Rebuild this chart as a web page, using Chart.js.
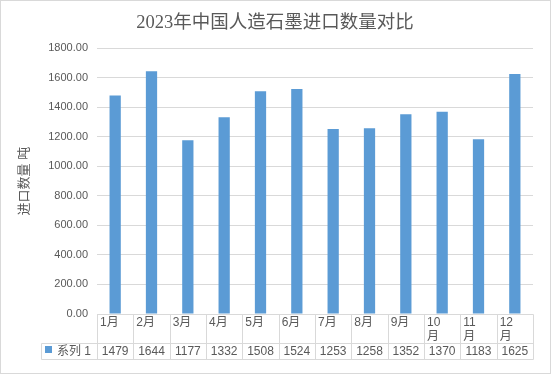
<!DOCTYPE html>
<html>
<head>
<meta charset="utf-8">
<script src="https://cdn.jsdelivr.net/npm/chart.js@4/dist/chart.umd.min.js"></script>
<style>
  html, body { margin: 0; padding: 0; background: #fff; }
  #wrap { width: 554px; height: 377px; }
</style>
</head>
<body>
<div id="wrap"><canvas id="graph"></canvas></div>
<script>
const months = ['1月', '2月', '3月', '4月', '5月', '6月', '7月', '8月', '9月', '10月', '11月', '12月'];
const seriesName = '系列 1';
const imports = [1479, 1644, 1177, 1332, 1508, 1524, 1253, 1258, 1352, 1370, 1183, 1625];
const yTickValues = [0, 200, 400, 600, 800, 1000, 1200, 1400, 1600, 1800];

const barColor = '#5B9BD5';
const lineColor = '#D9D9D9';
const textColor = '#595959';
const fontFamily = "'Liberation Sans', 'Noto Sans CJK SC', sans-serif";

// excel style data table under the plot + outer border
const dataTable = {
    id: 'dataTable',
    afterDraw(chart) {
        const ctx = chart.ctx;
        const area = chart.chartArea;
        const x = chart.scales.x;
        const top = Math.round(area.bottom) + 0.5;
        const row1 = top + 29;
        const row2 = row1 + 16;
        const left = Math.round(area.left) + 0.5;
        const right = Math.round(area.right) + 0.5;
        const legendLeft = 41.5;
        const step = (area.right - area.left) / months.length;

        ctx.save();
        ctx.strokeStyle = lineColor;
        ctx.lineWidth = 1;
        ctx.beginPath();
        ctx.moveTo(left, top); ctx.lineTo(right, top);
        ctx.moveTo(legendLeft, row1); ctx.lineTo(right, row1);
        ctx.moveTo(legendLeft, row2); ctx.lineTo(right, row2);
        ctx.moveTo(legendLeft, row1); ctx.lineTo(legendLeft, row2);
        for (let i = 0; i <= months.length; i++) {
            const bx = Math.round(x.getPixelForValue(0) - step / 2 + i * step) + 0.5;
            ctx.moveTo(bx, top); ctx.lineTo(bx, row2);
        }
        ctx.stroke();

        ctx.fillStyle = textColor;
        ctx.font = '12px ' + fontFamily;
        ctx.textBaseline = 'top';
        ctx.textAlign = 'left';
        months.forEach((m, i) => {
            const cx = x.getPixelForValue(i);
            const cl = cx - step / 2 + 3;
            let lines = [m];
            if (ctx.measureText(m).width > step - 14) lines = [m.slice(0, -1), m.slice(-1)];
            lines.forEach((ln, j) => ctx.fillText(ln, cl, top + 2 + j * 14));
        });

        ctx.textAlign = 'center';
        ctx.textBaseline = 'middle';
        imports.forEach((v, i) => {
            ctx.fillText(String(v), x.getPixelForValue(i), (row1 + row2) / 2);
        });

        // legend key
        ctx.fillStyle = barColor;
        ctx.fillRect(45, row1 + 2.5, 7, 7);
        ctx.fillStyle = textColor;
        ctx.textAlign = 'left';
        ctx.fillText(seriesName, 57, (row1 + row2) / 2);

        // outer chart border
        ctx.strokeRect(0.5, 0.5, 550, 373);
        ctx.restore();
    }
};

const data = {
    labels: months,
    datasets: [{
        label: seriesName,
        data: imports,
        backgroundColor: barColor,
        borderWidth: 0,
        categoryPercentage: 1,
        barPercentage: 0.31
    }]
};

const config = {
    type: 'bar',
    data: data,
    plugins: [dataTable],
    options: {
        responsive: true,
        maintainAspectRatio: false,
        animation: false,
        layout: {
            padding: { left: 17, right: 21, top: 0, bottom: 63 }
        },
        plugins: {
            legend: { display: false },
            tooltip: { enabled: false },
            title: {
                display: true,
                text: '2023年中国人造石墨进口数量对比',
                color: textColor,
                font: { family: "'Liberation Serif', 'Noto Sans CJK SC', serif", size: 18.5, weight: 'normal' },
                padding: { top: 12, bottom: 14 }
            }
        },
        scales: {
            x: {
                display: false
            },
            y: {
                min: 0,
                max: 1800,
                afterBuildTicks: (s) => { s.ticks = yTickValues.map(v => ({ value: v })); },
                afterFit: (s) => { s.width = 80; },
                border: { display: false },
                grid: { color: lineColor, drawTicks: false },
                ticks: {
                    color: textColor,
                    font: { family: fontFamily, size: 11 },
                    padding: 9,
                    callback: (v) => Number(v).toFixed(2)
                },
                title: {
                    display: true,
                    text: '进口数量 吨',
                    color: textColor,
                    font: { family: fontFamily, size: 13 },
                    padding: { top: 0, bottom: 0 }
                }
            }
        }
    }
};

const graph = document.querySelector('#graph');
new Chart(graph, config);
</script>
</body>
</html>
